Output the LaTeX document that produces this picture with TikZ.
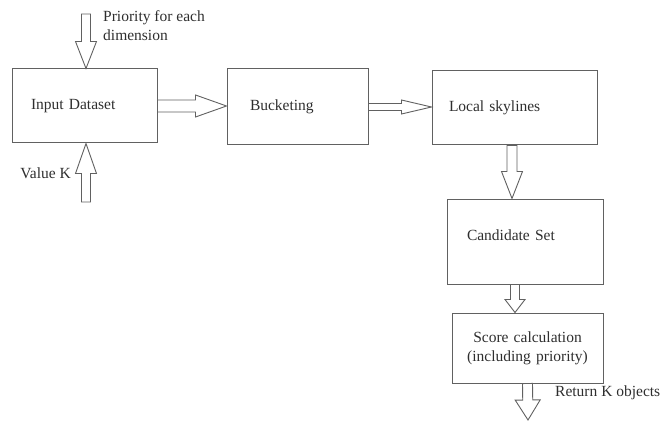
\documentclass[tikz,border=0pt]{standalone}
\usepackage{fontspec}
\setmainfont{Liberation Serif}
\usepackage{xcolor}
\usepackage{tikz}
\usetikzlibrary {arrows.meta,calc,positioning}
\definecolor{linegray}{rgb}{0.38, 0.38, 0.38}
\definecolor{textgray}{rgb}{0.18, 0.18, 0.18}
\tikzset{
  box/.style={draw=linegray, line width=1pt, rectangle, align=left, text=textgray},
  fatarrow/.style n args={3}{draw=linegray, line width=0.9pt, fill=white, line join=miter,
    to path={let \p1=(\tikztostart), \p2=(\tikztotarget), \n1={atan2(\y2-\y1,\x2-\x1)} in
      ($(\p1)+(\n1+90:#1)$) -- ($(\p2)+(\n1+180:#3)+(\n1+90:#1)$)
      -- ($(\p2)+(\n1+180:#3)+(\n1+90:#2)$) -- (\p2)
      -- ($(\p2)+(\n1+180:#3)+(\n1-90:#2)$) -- ($(\p2)+(\n1+180:#3)+(\n1-90:#1)$)
      -- ($(\p1)+(\n1-90:#1)$) -- cycle}},
}

\begin{document}
\begin{tikzpicture}[x=1pt, y=-1pt, font=\fontsize{15.5}{19}\selectfont]
\useasboundingbox (0,0) rectangle (666,422);

\node (in) at (84.5,106) [box, minimum height=74pt, text width=107pt, inner xsep=19pt]{Input Dataset};
\node (buck) at (297.5,107) [box, minimum height=76pt, text width=95pt, inner xsep=23pt]{Bucketing};
\node (loc) at (514.5,108) [box, minimum height=74pt, text width=131pt, inner xsep=17pt]{Local skylines};
\node (cand) at (525,241.5) [box, minimum height=85pt, text width=116pt, inner xsep=20pt, text depth=12pt]{Candidate Set};
\node (score) at (527.5,348) [box, minimum height=70pt, text width=131pt, inner xsep=10pt, align=center]{Score calculation\\(including priority)};

\coordinate (prio) at (86,14);
\coordinate (kin) at (86,202);
\coordinate (out) at (528,420);

\node (priolbl) at (103,26) [anchor=west, align=left, text=textgray, inner sep=0pt]{Priority for each\\dimension};
\node (klbl) at (71,173) [anchor=east, text=textgray, inner sep=0pt]{Value K};
\node (outlbl) at (555,393) [anchor=west, text=textgray, inner sep=0pt]{Return K objects};

\draw[fatarrow={4.5pt}{10.5pt}{27pt}] (prio) to (prio |- in.north);
\draw[fatarrow={4.5pt}{10.5pt}{30pt}] (kin) to (kin |- in.south);
\draw[fatarrow={6pt}{11pt}{31pt}] (in.east) to (in.east -| buck.west);
\draw[fatarrow={3.5pt}{7pt}{30pt}] (buck.east) to (buck.east -| loc.west);
\draw[fatarrow={5pt}{10.5pt}{27pt}] ([xshift=-2.5pt]loc.south) to ([xshift=-2.5pt]loc.south |- cand.north);
\draw[fatarrow={4.5pt}{10pt}{13pt}] ([xshift=-10pt]cand.south) to ([xshift=-10pt]cand.south |- score.north);
\draw[fatarrow={5pt}{12.5pt}{20pt}] (score.south) to (out);

\end{tikzpicture}
\end{document}
